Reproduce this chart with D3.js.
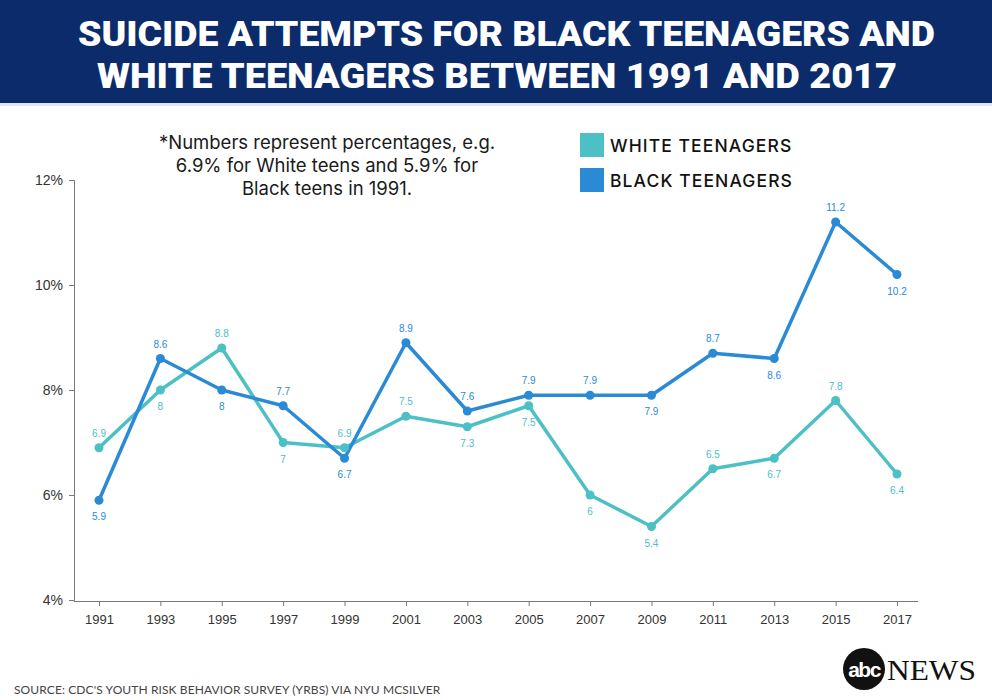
<!DOCTYPE html>
<html><head><meta charset="utf-8">
<script src="https://cdn.jsdelivr.net/npm/d3@7"></script>
<style>html,body{margin:0;padding:0;background:#fff;}svg{display:block;}</style>
</head><body>
<svg id="chart" width="992" height="700"></svg>
<script>
const years = ["1991","1993","1995","1997","1999","2001","2003","2005","2007","2009","2011","2013","2015","2017"];
const whiteValues = [6.9, 8.0, 8.8, 7.0, 6.9, 7.5, 7.3, 7.7, 6.0, 5.4, 6.5, 6.7, 7.8, 6.4];
const whiteLabels = ["6.9","8","8.8","7","6.9","7.5","7.3","7.5","6","5.4","6.5","6.7","7.8","6.4"];
const whiteLabelSide = ["up","down","up","down","up","up","down","down","down","down","up","down","up","down"];
const blackValues = [5.9, 8.6, 8.0, 7.7, 6.7, 8.9, 7.6, 7.9, 7.9, 7.9, 8.7, 8.6, 11.2, 10.2];
const blackLabels = ["5.9","8.6","8","7.7","6.7","8.9","7.6","7.9","7.9","7.9","8.7","8.6","11.2","10.2"];
const blackLabelSide = ["down","up","down","up","down","up","up","up","up","down","up","down","up","down"];
const yTicks = [4, 6, 8, 10, 12];
const titleLines = ["SUICIDE ATTEMPTS FOR BLACK TEENAGERS AND", "WHITE TEENAGERS BETWEEN 1991 AND 2017"];
const noteLines = ["*Numbers represent percentages, e.g.", "6.9% for White teens and 5.9% for", "Black teens in 1991."];
const legendNames = ["WHITE TEENAGERS", "BLACK TEENAGERS"];

const svg = d3.select("#chart");
const colWhite = "#4cc0c4", colBlack = "#2a8ad6";

// header
svg.append("rect").attr("x",0).attr("y",0).attr("width",992).attr("height",103).attr("fill","#0c2b6b");
svg.append("rect").attr("x",0).attr("y",103).attr("width",992).attr("height",3).attr("fill","#dfe6ef");
const tl = [{y:46, x1:78, x2:935},{y:87.5, x1:97, x2:897}];
titleLines.forEach((t,i)=>{
  svg.append("text").attr("x",tl[i].x1).attr("y",tl[i].y)
    .attr("textLength", tl[i].x2-tl[i].x1).attr("lengthAdjust","spacingAndGlyphs")
    .attr("font-family","Roboto, 'Liberation Sans', sans-serif").attr("font-weight",900)
    .attr("font-size",34.5).attr("fill","#fff").text(t);
});

const x = d3.scalePoint().domain(years).range([99, 897]);
const y = d3.scaleLinear().domain([4,12]).range([600, 180]);

// axes
const yAxis = d3.axisLeft(y).tickValues(yTicks).tickFormat(d=>d+"%").tickSize(5).tickPadding(6);
const gy = svg.append("g").attr("transform","translate(74,0)").call(yAxis);
gy.select(".domain").attr("stroke","#777");
gy.selectAll(".tick line").attr("stroke","#777");
gy.selectAll("text").attr("font-family","'Liberation Sans', Arial, sans-serif").attr("font-size",14).attr("fill","#333");

const xAxis = d3.axisBottom(x).tickSize(5).tickPadding(6).tickSizeOuter(0);
const gx = svg.append("g").attr("transform","translate(0,601)").call(xAxis);
gx.select(".domain").attr("d","M74,0.5H918").attr("stroke","#777");
gx.selectAll(".tick line").attr("stroke","#777");
gx.selectAll("text").attr("font-family","'Liberation Sans', Arial, sans-serif").attr("font-size",13).attr("fill","#333").attr("dy","0.9em");

// series
const series = [
  {vals: whiteValues, labels: whiteLabels, side: whiteLabelSide, color: colWhite},
  {vals: blackValues, labels: blackLabels, side: blackLabelSide, color: colBlack}
];
const line = d3.line().x((d,i)=>x(years[i])).y(d=>y(d));
series.forEach(s=>{
  svg.append("path").datum(s.vals).attr("d", line).attr("fill","none")
    .attr("stroke", s.color).attr("stroke-width",3.5).attr("stroke-linejoin","round");
});
series.forEach(s=>{
  svg.append("g").selectAll("circle").data(s.vals).join("circle")
    .attr("cx",(d,i)=>x(years[i])).attr("cy",d=>y(d)).attr("r",4.5).attr("fill",s.color);
  svg.append("g").selectAll("text").data(s.vals).join("text")
    .attr("x",(d,i)=>x(years[i])).attr("y",(d,i)=>y(d) + (s.side[i]==="up" ? -11 : 20))
    .attr("text-anchor","middle").attr("font-family","'Liberation Sans', Arial, sans-serif")
    .attr("font-size",10).attr("fill",s.color).text((d,i)=>s.labels[i]);
});

// note
noteLines.forEach((t,i)=>{
  svg.append("text").attr("x",327).attr("y",149 + i*23).attr("text-anchor","middle")
    .attr("font-family","Inter, 'Noto Sans', sans-serif").attr("font-size",18.5).attr("fill","#1a1a1a").text(t);
});

// legend
legendNames.forEach((t,i)=>{
  const c = i===0 ? colWhite : colBlack;
  svg.append("rect").attr("x",580).attr("y",133+i*35).attr("width",24).attr("height",24).attr("fill",c);
  svg.append("text").attr("x",610).attr("y",152+i*35)
    .attr("font-family","Inter, 'Noto Sans', sans-serif").attr("font-weight",500)
    .attr("font-size",17.5).attr("letter-spacing",1.1).attr("fill","#111").text(t);
});

// source
svg.append("text").attr("x",14).attr("y",694).attr("font-family","Lato, 'Open Sans', sans-serif")
  .attr("font-size",12).attr("letter-spacing",0.1).attr("fill","#444")
  .text("SOURCE: CDC'S YOUTH RISK BEHAVIOR SURVEY (YRBS) VIA NYU MCSILVER");

// logo
svg.append("circle").attr("cx",864).attr("cy",669).attr("r",21).attr("fill","#111");
svg.append("text").attr("x",864).attr("y",677).attr("text-anchor","middle")
  .attr("font-family","'Liberation Sans', Arial, sans-serif").attr("font-weight","bold")
  .attr("font-size",21).attr("letter-spacing",-1.5).attr("fill","#fff").text("abc");
svg.append("text").attr("x",887).attr("y",680).attr("font-family","'Liberation Serif', 'Times New Roman', serif")
  .attr("font-size",30).attr("textLength",89).attr("lengthAdjust","spacingAndGlyphs").attr("fill","#111").text("NEWS");
</script>
</body></html>
